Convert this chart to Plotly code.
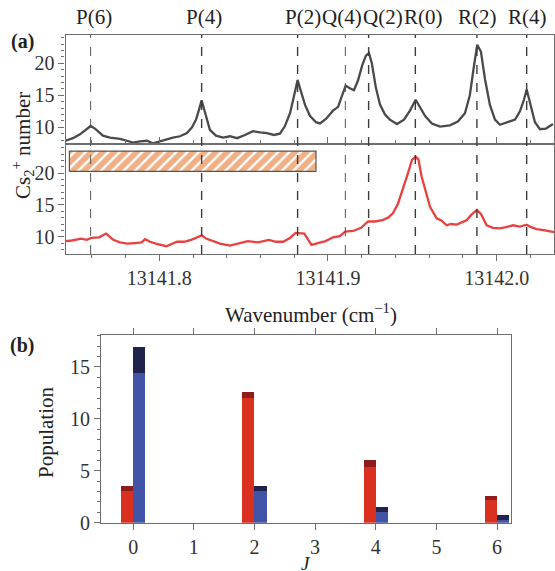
import plotly.graph_objects as go

# ---------------- data: panel (a) ----------------
wn_upper = [13141.7444, 13141.7488, 13141.7530, 13141.7565, 13141.7593, 13141.7619, 13141.7666,
            13141.7708, 13141.7767, 13141.7808, 13141.7844, 13141.7886, 13141.7927, 13141.7962,
            13141.8004, 13141.8046, 13141.8081, 13141.8123, 13141.8164, 13141.8194, 13141.8218,
            13141.8236, 13141.8251, 13141.8265, 13141.8283, 13141.8300, 13141.8336, 13141.8378,
            13141.8419, 13141.8461, 13141.8508, 13141.8555, 13141.8597, 13141.8638, 13141.8680,
            13141.8715, 13141.8745, 13141.8775, 13141.8798, 13141.8820, 13141.8840, 13141.8864,
            13141.8893, 13141.8929, 13141.8953, 13141.8988, 13141.9030, 13141.9060, 13141.9084,
            13141.9105, 13141.9130, 13141.9154, 13141.9178, 13141.9202, 13141.9225, 13141.9243,
            13141.9260, 13141.9284, 13141.9308, 13141.9338, 13141.9367, 13141.9409, 13141.9451,
            13141.9486, 13141.9520, 13141.9545, 13141.9575, 13141.9616, 13141.9664, 13141.9723,
            13141.9770, 13141.9812, 13141.9841, 13141.9865, 13141.9885, 13141.9907, 13141.9931,
            13141.9960, 13141.9990, 13142.0020, 13142.0067, 13142.0109, 13142.0138, 13142.0162,
            13142.0178, 13142.0197, 13142.0227, 13142.0257, 13142.0292, 13142.0334]
counts_upper = [7.9, 8.3, 8.9, 9.6, 10.2, 9.8, 8.7,
                8.4, 8.2, 7.9, 7.6, 7.8, 7.9, 7.5,
                7.8, 8.2, 8.4, 8.6, 9.1, 10.0, 11.2,
                12.8, 14.2, 12.9, 11.0, 9.6, 8.7, 8.4,
                8.6, 8.3, 8.8, 9.4, 9.2, 9.1, 8.8,
                9.0, 10.2, 12.2, 14.8, 17.4, 15.6, 13.5,
                11.8, 10.8, 10.6, 11.3, 12.6, 13.2, 15.0,
                16.5, 16.1, 15.8, 17.3, 19.6, 21.2, 21.6,
                20.0, 16.2, 13.6, 12.0, 11.2, 10.5, 11.2,
                12.6, 14.3, 13.2, 11.8, 10.6, 10.1, 10.3,
                10.9, 12.2, 15.0, 19.5, 22.9, 21.8, 17.5,
                13.5, 11.2, 10.4, 10.8, 11.2, 12.5, 14.3,
                15.9, 14.0, 10.8, 9.7, 9.8, 10.5]

wn_lower = [13141.7444, 13141.7482, 13141.7538, 13141.7570, 13141.7597, 13141.7643, 13141.7685,
            13141.7727, 13141.7767, 13141.7811, 13141.7856, 13141.7895, 13141.7916, 13141.7945,
            13141.7979, 13141.8042, 13141.8105, 13141.8146, 13141.8189, 13141.8252, 13141.8277,
            13141.8315, 13141.8360, 13141.8419, 13141.8479, 13141.8525, 13141.8585, 13141.8650,
            13141.8692, 13141.8734, 13141.8775, 13141.8808, 13141.8860, 13141.8902, 13141.8941,
            13141.8986, 13141.9030, 13141.9070, 13141.9102, 13141.9149, 13141.9196, 13141.9238,
            13141.9279, 13141.9322, 13141.9356, 13141.9385, 13141.9415, 13141.9444, 13141.9474,
            13141.9498, 13141.9520, 13141.9536, 13141.9555, 13141.9581, 13141.9605, 13141.9644,
            13141.9670, 13141.9704, 13141.9729, 13141.9763, 13141.9789, 13141.9822, 13141.9848,
            13141.9882, 13141.9907, 13141.9941, 13141.9978, 13142.0020, 13142.0055, 13142.0097,
            13142.0138, 13142.0178, 13142.0204, 13142.0238, 13142.0287, 13142.0340]
counts_lower = [9.3, 9.4, 9.7, 9.5, 9.8, 9.9, 10.5,
                9.5, 9.1, 8.9, 9.0, 9.1, 9.6, 9.2,
                8.9, 8.5, 9.2, 9.2, 9.5, 10.2, 9.7,
                9.3, 8.9, 8.6, 9.0, 9.3, 9.1, 9.5,
                9.2, 9.2, 9.8, 10.6, 10.5, 8.7, 9.0,
                9.3, 9.9, 10.1, 10.8, 10.9, 11.4, 12.4,
                12.4, 12.6, 13.0, 13.7, 15.2, 17.4, 20.0,
                22.1, 22.6, 22.2, 19.5, 17.0, 14.7, 12.9,
                12.6, 11.8, 12.0, 11.9, 12.2, 12.6, 13.4,
                14.2, 13.6, 11.8, 11.4, 11.3, 11.5, 11.8,
                11.6, 11.9, 11.5, 11.2, 11.0, 10.7]

line_labels = ["P(6)", "P(4)", "P(2)", "Q(4)", "Q(2)", "R(0)", "R(2)", "R(4)"]
line_positions = [13141.7593, 13141.8251, 13141.8820, 13141.9103, 13141.9241,
                  13141.9518, 13141.9883, 13142.0178]

laser_band_x = [13141.7467, 13141.8929]
laser_band_y = [20.3, 23.5]

x_ticks = [13141.8, 13141.9, 13142.0]
x_tick_text = ["13141.8", "13141.9", "13142.0"]

# ---------------- data: panel (b) ----------------
J = [0, 2, 4, 6]
pop_red = [3.08, 11.98, 5.40, 2.15]
pop_red_total = [3.50, 12.60, 6.04, 2.57]
pop_blue = [14.46, 3.08, 1.06, 0.30]
pop_blue_total = [16.96, 3.50, 1.54, 0.77]

# ---------------- figure ----------------
FONT = "Liberation Serif"
AX = "#6e6e6e"
W, H = 555, 571

def py(pix):
    return 1 - pix / H

fig = go.Figure()

fig.add_trace(go.Scatter(x=wn_upper, y=counts_upper, mode="lines",
                         line=dict(color="#4a4a4a", width=2.3), xaxis="x", yaxis="y",
                         showlegend=False))
fig.add_trace(go.Scatter(x=[laser_band_x[0], laser_band_x[1], laser_band_x[1], laser_band_x[0], laser_band_x[0]],
                         y=[laser_band_y[0], laser_band_y[0], laser_band_y[1], laser_band_y[1], laser_band_y[0]],
                         mode="lines", fill="toself", fillcolor="rgba(0,0,0,0)",
                         fillpattern=dict(shape="/", fgcolor="#e2600c", bgcolor="white",
                                          size=8, solidity=0.7),
                         line=dict(color="#555555", width=1.2), xaxis="x2", yaxis="y2",
                         showlegend=False, hoverinfo="skip"))
fig.add_trace(go.Scatter(x=wn_lower, y=counts_lower, mode="lines",
                         line=dict(color="#e8413f", width=2.3), xaxis="x2", yaxis="y2",
                         showlegend=False))

dark_red = [t - b for t, b in zip(pop_red_total, pop_red)]
dark_blue = [t - b for t, b in zip(pop_blue_total, pop_blue)]
bw = 0.2
fig.add_trace(go.Bar(x=J, y=pop_red, offset=-bw, width=bw, marker=dict(color="#d9301f", line=dict(width=0)),
                     xaxis="x3", yaxis="y3", showlegend=False))
fig.add_trace(go.Bar(x=J, y=dark_red, base=pop_red, offset=-bw, width=bw,
                     marker=dict(color="#8e1c1f", line=dict(width=0)),
                     xaxis="x3", yaxis="y3", showlegend=False))
fig.add_trace(go.Bar(x=J, y=pop_blue, offset=0, width=bw, marker=dict(color="#4254a8", line=dict(width=0)),
                     xaxis="x3", yaxis="y3", showlegend=False))
fig.add_trace(go.Bar(x=J, y=dark_blue, base=pop_blue, offset=0, width=bw,
                     marker=dict(color="#20244d", line=dict(width=0)),
                     xaxis="x3", yaxis="y3", showlegend=False))

xdom_a = [65.5 / W, 554 / W]
tickfont = dict(family=FONT, size=20, color="#333333")

common_y = dict(showgrid=False, zeroline=False, showline=True, linecolor=AX, linewidth=1.2,
                mirror=True, ticks="outside", ticklen=6, tickcolor=AX, tickwidth=1.2,
                tickvals=[10, 15, 20], tickfont=tickfont, automargin=False,
                minor=dict(ticks="outside", ticklen=3, dtick=1, tickcolor=AX, tickwidth=1))

fig.update_layout(
    width=W, height=H, margin=dict(l=0, r=0, t=0, b=0, autoexpand=False),
    font=dict(family=FONT, size=20, color="#222222"),
    paper_bgcolor="white", plot_bgcolor="white",
    barmode="overlay", bargap=0,
    xaxis=dict(domain=xdom_a, anchor="y", range=[13141.7444, 13142.0340], showgrid=False,
               zeroline=False, showline=True, linecolor=AX, linewidth=1.2, mirror=True,
               ticks="", showticklabels=False, automargin=False),
    yaxis=dict(domain=[py(144), py(35)], anchor="x", range=[7.39, 24.42], **common_y),
    xaxis2=dict(domain=xdom_a, anchor="y2", matches="x", showgrid=False, zeroline=False,
                showline=True, linecolor=AX, linewidth=1.2, mirror="ticks", automargin=False,
                ticks="outside", ticklen=6, tickcolor=AX, tickwidth=1.2,
                tickvals=x_ticks, ticktext=x_tick_text, tickfont=tickfont,
                minor=dict(ticks="outside", ticklen=3, dtick=0.02, tick0=13141.8,
                           tickcolor=AX, tickwidth=1)),
    yaxis2=dict(domain=[py(254), py(144)], anchor="x2", range=[7.27, 24.62], **common_y),
    xaxis3=dict(domain=[101 / W, 511 / W], anchor="y3", range=[-0.53, 6.23], showgrid=False,
                zeroline=False, showline=True, linecolor=AX, linewidth=1.2, mirror="ticks",
                ticks="outside", ticklen=6, tickcolor=AX, tickwidth=1.2, automargin=False,
                tickvals=[0, 1, 2, 3, 4, 5, 6], tickfont=tickfont),
    yaxis3=dict(domain=[py(522.7), py(335)], anchor="x3", range=[0, 18.08], showgrid=False,
                zeroline=False, showline=True, linecolor=AX, linewidth=1.2, mirror=True,
                ticks="outside", ticklen=6, tickcolor=AX, tickwidth=1.2, automargin=False,
                tickvals=[0, 5, 10, 15], tickfont=tickfont,
                minor=dict(ticks="outside", ticklen=3, dtick=1, tickcolor=AX, tickwidth=1)),
)

# dashed transition lines across both panels
for lbl, pos in zip(line_labels, line_positions):
    thin = lbl in ("P(6)", "Q(4)")
    fig.add_shape(type="line", xref="x", yref="paper", x0=pos, x1=pos,
                  y0=py(254), y1=py(35),
                  line=dict(color="#555555" if thin else "#3c3c3c",
                            width=1.0 if thin else 1.4, dash="dash"))

label_shift = {"P(6)": 3, "P(4)": 2, "P(2)": 5, "Q(4)": -3,
               "Q(2)": 14, "R(0)": 8, "R(2)": 1, "R(4)": 1}
for lbl, pos in zip(line_labels, line_positions):
    fig.add_annotation(x=pos, y=py(17), xref="x", yref="paper", text=lbl, showarrow=False,
                       xshift=label_shift[lbl], xanchor="center", yanchor="middle",
                       font=dict(family=FONT, size=21, color="#222222"))

def label(xpix, ypix, text, angle=0, size=21):
    fig.add_annotation(x=xpix / W, y=py(ypix), xref="paper", yref="paper", text=text,
                       textangle=angle, showarrow=False, xanchor="center", yanchor="middle",
                       font=dict(family=FONT, size=size, color="#222222"))

label(22, 41, "<b>(a)</b>", size=20)
label(22, 345, "<b>(b)</b>", size=20)
label(22, 146, "Cs<sub>2</sub><sup>+</sup> number", angle=-90)
label(311, 313, "Wavenumber (cm<sup>−1</sup>)")
label(46, 432, "Population", angle=-90)
label(306, 563, "<i>J</i>", size=19)

fig.write_html("out.html", config={"displayModeBar": False},
               post_script="document.body.style.margin='0';document.body.style.padding='0';")
